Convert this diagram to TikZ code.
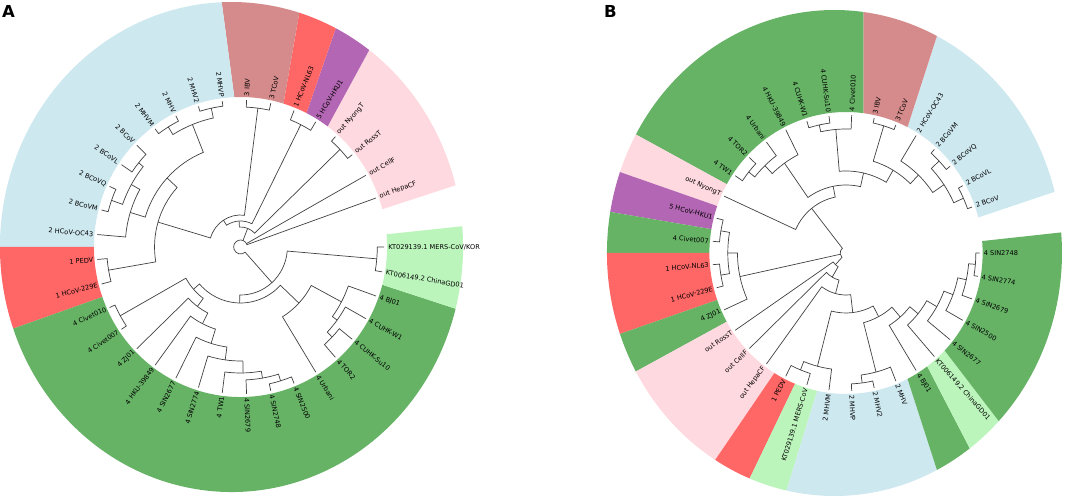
\documentclass[tikz,border=0pt]{standalone}
\usepackage{fontspec}
\setmainfont{DejaVu Sans}
\definecolor{lbluefill}{RGB}{206,232,240}
\definecolor{brownfill}{RGB}{213,139,139}
\definecolor{redfill}{RGB}{255,102,102}
\definecolor{purplefill}{RGB}{179,102,179}
\definecolor{pinkfill}{RGB}{255,217,224}
\definecolor{lgreenfill}{RGB}{188,245,188}
\definecolor{greenfill}{RGB}{102,179,102}

\begin{document}
\begin{tikzpicture}[x=1pt,y=1pt,
		branch/.style={line width=0.7pt, draw=black!75},
		leaflabel/.style={font=\fontsize{6.6}{8}\selectfont, inner sep=1pt}
	]
	\useasboundingbox (0,0) rectangle (1084,498);
	
	\node [anchor=north west, inner sep=0, font=\fontsize{16.5}{18}\selectfont\bfseries] (panA) at (2,493) {A};
	\node [anchor=north west, inner sep=0, font=\fontsize{16.5}{18}\selectfont\bfseries] (panB) at (604,493) {B};
	
	% tree A
	\begin{scope}[shift={(240.5,251)}, xscale=0.977]
		% coloured ranges (outer rim sits a little to the left)
		\fill [pinkfill] (14.59:150) arc[start angle=14.59, end angle=53.51, radius=150] -- ([xshift=-9.2]53.51:237 and 245) arc[start angle=53.51, end angle=14.59, x radius=237, y radius=245] -- cycle;
		\fill [purplefill] (53.51:150) arc[start angle=53.51, end angle=63.24, radius=150] -- ([xshift=-9.2]63.24:237 and 245) arc[start angle=63.24, end angle=53.51, x radius=237, y radius=245] -- cycle;
		\fill [redfill] (63.24:150) arc[start angle=63.24, end angle=72.97, radius=150] -- ([xshift=-9.2]72.97:237 and 245) arc[start angle=72.97, end angle=63.24, x radius=237, y radius=245] -- cycle;
		\fill [brownfill] (72.97:150) arc[start angle=72.97, end angle=92.43, radius=150] -- ([xshift=-9.2]92.43:237 and 245) arc[start angle=92.43, end angle=72.97, x radius=237, y radius=245] -- cycle;
		\fill [lbluefill] (92.43:150) arc[start angle=92.43, end angle=180, radius=150] -- ([xshift=-9.2]180:237 and 245) arc[start angle=180, end angle=92.43, x radius=237, y radius=245] -- cycle;
		\fill [redfill] (180:150) arc[start angle=180, end angle=199.46, radius=150] -- ([xshift=-9.2]199.46:237 and 245) arc[start angle=199.46, end angle=180, x radius=237, y radius=245] -- cycle;
		\fill [greenfill] (199.46:150) arc[start angle=199.46, end angle=345.41, radius=150] -- ([xshift=-9.2]345.41:237 and 245) arc[start angle=345.41, end angle=199.46, x radius=237, y radius=245] -- cycle;
		\fill [lgreenfill] (345.41:150) arc[start angle=345.41, end angle=364.86, radius=150] -- ([xshift=-9.2]364.86:237 and 245) arc[start angle=364.86, end angle=345.41, x radius=237, y radius=245] -- cycle;
		
		% branches
		\draw [branch] (97.30:147) -- (97.30:142) arc[start angle=97.30, end angle=107.03, radius=142] -- (107.03:147);
		\draw [branch] (116.76:147) -- (116.76:141) arc[start angle=116.76, end angle=126.49, radius=141] -- (126.49:147);
		\draw [branch] (102.16:142) -- (102.16:132) arc[start angle=102.16, end angle=121.62, radius=132] -- (121.62:141);
		\draw [branch] (136.22:147) -- (136.22:134) arc[start angle=136.22, end angle=145.95, radius=134] -- (145.95:147);
		\draw [branch] (155.68:147) -- (155.68:140) arc[start angle=155.68, end angle=165.41, radius=140] -- (165.41:147);
		\draw [branch] (141.08:134) -- (141.08:128) arc[start angle=141.08, end angle=160.54, radius=128] -- (160.54:140);
		\draw [branch] (150.81:128) -- (150.81:118) arc[start angle=150.81, end angle=175.14, radius=118] -- (175.14:147);
		\draw [branch] (111.89:132) -- (111.89:102) arc[start angle=111.89, end angle=162.97, radius=102] -- (162.97:118);
		\draw [branch] (184.86:147) -- (184.86:137) arc[start angle=184.86, end angle=194.59, radius=137] -- (194.59:147);
		\draw [branch] (137.43:102) -- (137.43:88) arc[start angle=137.43, end angle=189.73, radius=88] -- (189.73:137);
		\draw [branch] (77.84:147) -- (77.84:140) arc[start angle=77.84, end angle=87.57, radius=140] -- (87.57:147);
		\draw [branch] (82.70:140) -- (82.70:32) arc[start angle=82.70, end angle=163.58, radius=32] -- (163.58:88);
		\draw [branch] (58.38:147) -- (58.38:137) arc[start angle=58.38, end angle=68.11, radius=137] -- (68.11:147);
		\draw [branch] (63.24:137) -- (63.24:26) arc[start angle=63.24, end angle=123.14, radius=26] -- (123.14:32);
		\draw [branch] (38.92:147) -- (38.92:141) arc[start angle=38.92, end angle=48.65, radius=141] -- (48.65:147);
		\draw [branch] (43.78:141) -- (43.78:20) arc[start angle=43.78, end angle=93.19, radius=20] -- (93.19:26);
		\draw [branch] (204.32:147) -- (204.32:141) arc[start angle=204.32, end angle=214.05, radius=141] -- (214.05:147);
		\draw [branch] (282.16:147) -- (282.16:140) arc[start angle=282.16, end angle=291.89, radius=140] -- (291.89:147);
		\draw [branch] (272.43:147) -- (272.43:133) arc[start angle=272.43, end angle=287.03, radius=133] -- (287.03:140);
		\draw [branch] (262.70:147) -- (262.70:126) arc[start angle=262.70, end angle=279.73, radius=126] -- (279.73:133);
		\draw [branch] (252.97:147) -- (252.97:114) arc[start angle=252.97, end angle=271.22, radius=114] -- (271.22:126);
		\draw [branch] (243.24:147) -- (243.24:101) arc[start angle=243.24, end angle=262.09, radius=101] -- (262.09:114);
		\draw [branch] (233.51:147) -- (233.51:86) arc[start angle=233.51, end angle=252.67, radius=86] -- (252.67:101);
		\draw [branch] (223.78:147) -- (223.78:74) arc[start angle=223.78, end angle=243.09, radius=74] -- (243.09:86);
		\draw [branch] (209.19:141) -- (209.19:64) arc[start angle=209.19, end angle=233.43, radius=64] -- (233.43:74);
		\draw [branch] (311.35:147) -- (311.35:130) arc[start angle=311.35, end angle=321.08, radius=130] -- (321.08:147);
		\draw [branch] (316.22:130) -- (316.22:123) arc[start angle=316.22, end angle=330.81, radius=123] -- (330.81:147);
		\draw [branch] (323.51:123) -- (323.51:117) arc[start angle=323.51, end angle=340.54, radius=117] -- (340.54:147);
		\draw [branch] (301.62:147) -- (301.62:82) arc[start angle=301.62, end angle=332.03, radius=82] -- (332.03:117);
		\draw [branch] (221.31:64) -- (221.31:56) arc[start angle=221.31, end angle=316.82, radius=56] -- (316.82:82);
		\draw [branch] (350.27:147) -- (350.27:140) arc[start angle=350.27, end angle=360, radius=140] -- (360:147);
		\draw [branch] (269.07:56) -- (269.07:48) arc[start angle=269.07, end angle=355.14, radius=48] -- (355.14:140);
		\draw [branch] (19.46:147) -- (19.46:7) arc[start angle=19.46, end angle=312.10, radius=7] -- (312.10:48);
		\draw [branch] (29.19:7) -- (29.19:147);
		\draw [branch] (68.49:7) -- (68.49:20);
		
		% leaf names
		\node [leaflabel, anchor=west, rotate=19.46] (a2) at (19.46:150) {out HepaCF};
		\node [leaflabel, anchor=west, rotate=29.19] (a3) at (29.19:150) {out CellF};
		\node [leaflabel, anchor=west, rotate=38.92] (a4) at (38.92:150) {out RossT};
		\node [leaflabel, anchor=west, rotate=48.65] (a5) at (48.65:150) {out NyongT};
		\node [leaflabel, anchor=west, rotate=58.38] (a6) at (58.38:150) {5 HCoV-HKU1};
		\node [leaflabel, anchor=west, rotate=68.11] (a7) at (68.11:150) {1 HCoV-NL63};
		\node [leaflabel, anchor=west, rotate=77.84] (a8) at (77.84:150) {3 TCoV};
		\node [leaflabel, anchor=west, rotate=87.57] (a9) at (87.57:150) {3 IBV};
		\node [leaflabel, anchor=east, rotate=-82.70] (a10) at (97.30:150) {2 MHVP};
		\node [leaflabel, anchor=east, rotate=-72.97] (a11) at (107.03:150) {2 MHV2};
		\node [leaflabel, anchor=east, rotate=-63.24] (a12) at (116.76:150) {2 MHV};
		\node [leaflabel, anchor=east, rotate=-53.51] (a13) at (126.49:150) {2 MHVM};
		\node [leaflabel, anchor=east, rotate=-43.78] (a14) at (136.22:150) {2 BCoV};
		\node [leaflabel, anchor=east, rotate=-34.05] (a15) at (145.95:150) {2 BCoVL};
		\node [leaflabel, anchor=east, rotate=-24.32] (a16) at (155.68:150) {2 BCoVQ};
		\node [leaflabel, anchor=east, rotate=-14.59] (a17) at (165.41:150) {2 BCoVM};
		\node [leaflabel, anchor=east, rotate=-4.86] (a18) at (175.14:150) {2 HCoV-OC43};
		\node [leaflabel, anchor=east, rotate=4.86] (a19) at (184.86:150) {1 PEDV};
		\node [leaflabel, anchor=east, rotate=14.59] (a20) at (194.59:150) {1 HCoV-229E};
		\node [leaflabel, anchor=east, rotate=24.32] (a21) at (204.32:150) {4 Civet010};
		\node [leaflabel, anchor=east, rotate=34.05] (a22) at (214.05:150) {4 Civet007};
		\node [leaflabel, anchor=east, rotate=43.78] (a23) at (223.78:150) {4 ZJ01};
		\node [leaflabel, anchor=east, rotate=53.51] (a24) at (233.51:150) {4 HKU-39849};
		\node [leaflabel, anchor=east, rotate=63.24] (a25) at (243.24:150) {4 SIN2677};
		\node [leaflabel, anchor=east, rotate=72.97] (a26) at (252.97:150) {4 SIN2774};
		\node [leaflabel, anchor=east, rotate=82.70] (a27) at (262.70:150) {4 TW1};
		\node [leaflabel, anchor=west, rotate=272.43] (a28) at (272.43:150) {4 SIN2679};
		\node [leaflabel, anchor=west, rotate=282.16] (a29) at (282.16:150) {4 SIN2748};
		\node [leaflabel, anchor=west, rotate=291.89] (a30) at (291.89:150) {4 SIN2500};
		\node [leaflabel, anchor=west, rotate=301.62] (a31) at (301.62:150) {4 Urbani};
		\node [leaflabel, anchor=west, rotate=311.35] (a32) at (311.35:150) {4 TOR2};
		\node [leaflabel, anchor=west, rotate=321.08] (a33) at (321.08:150) {4 CUHK-Su10};
		\node [leaflabel, anchor=west, rotate=330.81] (a34) at (330.81:150) {4 CUHK-W1};
		\node [leaflabel, anchor=west, rotate=340.54] (a35) at (340.54:150) {4 BJ01};
		\node [leaflabel, anchor=west, rotate=350.27] (a36) at (350.27:150) {KT006149.2 ChinaGD01};
		\node [leaflabel, anchor=west, rotate=0] (a37) at (0:150) {KT029139.1 MERS-CoV/KOR};
	\end{scope}
	
	% tree B
	\begin{scope}[shift={(846,245)}, xscale=0.969]
		% coloured ranges (outer rim sits a little to the left)
		\fill [lbluefill] (14.59:141) arc[start angle=14.59, end angle=63.24, radius=141] -- ([xshift=-11.9]63.24:234.8 and 243) arc[start angle=63.24, end angle=14.59, x radius=234.8, y radius=243] -- cycle;
		\fill [brownfill] (63.24:141) arc[start angle=63.24, end angle=82.70, radius=141] -- ([xshift=-11.9]82.70:234.8 and 243) arc[start angle=82.70, end angle=63.24, x radius=234.8, y radius=243] -- cycle;
		\fill [greenfill] (82.70:141) arc[start angle=82.70, end angle=150.81, radius=141] -- ([xshift=-11.9]150.81:234.8 and 243) arc[start angle=150.81, end angle=82.70, x radius=234.8, y radius=243] -- cycle;
		\fill [pinkfill] (150.81:141) arc[start angle=150.81, end angle=160.54, radius=141] -- ([xshift=-11.9]160.54:234.8 and 243) arc[start angle=160.54, end angle=150.81, x radius=234.8, y radius=243] -- cycle;
		\fill [purplefill] (160.54:141) arc[start angle=160.54, end angle=170.27, radius=141] -- ([xshift=-11.9]170.27:234.8 and 243) arc[start angle=170.27, end angle=160.54, x radius=234.8, y radius=243] -- cycle;
		\fill [greenfill] (170.27:141) arc[start angle=170.27, end angle=180, radius=141] -- ([xshift=-11.9]180:234.8 and 243) arc[start angle=180, end angle=170.27, x radius=234.8, y radius=243] -- cycle;
		\fill [redfill] (180:141) arc[start angle=180, end angle=199.46, radius=141] -- ([xshift=-11.9]199.46:234.8 and 243) arc[start angle=199.46, end angle=180, x radius=234.8, y radius=243] -- cycle;
		\fill [greenfill] (199.46:141) arc[start angle=199.46, end angle=209.19, radius=141] -- ([xshift=-11.9]209.19:234.8 and 243) arc[start angle=209.19, end angle=199.46, x radius=234.8, y radius=243] -- cycle;
		\fill [pinkfill] (209.19:141) arc[start angle=209.19, end angle=238.38, radius=141] -- ([xshift=-11.9]238.38:234.8 and 243) arc[start angle=238.38, end angle=209.19, x radius=234.8, y radius=243] -- cycle;
		\fill [redfill] (238.38:141) arc[start angle=238.38, end angle=248.11, radius=141] -- ([xshift=-11.9]248.11:234.8 and 243) arc[start angle=248.11, end angle=238.38, x radius=234.8, y radius=243] -- cycle;
		\fill [lgreenfill] (248.11:141) arc[start angle=248.11, end angle=257.84, radius=141] -- ([xshift=-11.9]257.84:234.8 and 243) arc[start angle=257.84, end angle=248.11, x radius=234.8, y radius=243] -- cycle;
		\fill [lbluefill] (257.84:141) arc[start angle=257.84, end angle=296.76, radius=141] -- ([xshift=-11.9]296.76:234.8 and 243) arc[start angle=296.76, end angle=257.84, x radius=234.8, y radius=243] -- cycle;
		\fill [greenfill] (296.76:141) arc[start angle=296.76, end angle=306.49, radius=141] -- ([xshift=-11.9]306.49:234.8 and 243) arc[start angle=306.49, end angle=296.76, x radius=234.8, y radius=243] -- cycle;
		\fill [lgreenfill] (306.49:141) arc[start angle=306.49, end angle=316.22, radius=141] -- ([xshift=-11.9]316.22:234.8 and 243) arc[start angle=316.22, end angle=306.49, x radius=234.8, y radius=243] -- cycle;
		\fill [greenfill] (316.22:141) arc[start angle=316.22, end angle=364.86, radius=141] -- ([xshift=-11.9]364.86:234.8 and 243) arc[start angle=364.86, end angle=316.22, x radius=234.8, y radius=243] -- cycle;
		
		% branches
		\draw [branch] (19.46:138) -- (19.46:133) arc[start angle=19.46, end angle=29.19, radius=133] -- (29.19:138);
		\draw [branch] (38.92:138) -- (38.92:133) arc[start angle=38.92, end angle=48.65, radius=133] -- (48.65:138);
		\draw [branch] (24.32:133) -- (24.32:122) arc[start angle=24.32, end angle=43.78, radius=122] -- (43.78:133);
		\draw [branch] (34.05:122) -- (34.05:108) arc[start angle=34.05, end angle=58.38, radius=108] -- (58.38:138);
		\draw [branch] (68.11:138) -- (68.11:133) arc[start angle=68.11, end angle=77.84, radius=133] -- (77.84:138);
		\draw [branch] (46.22:108) -- (46.22:96) arc[start angle=46.22, end angle=72.97, radius=96] -- (72.97:133);
		\draw [branch] (97.30:138) -- (97.30:131) arc[start angle=97.30, end angle=107.03, radius=131] -- (107.03:138);
		\draw [branch] (87.57:138) -- (87.57:124) arc[start angle=87.57, end angle=102.16, radius=124] -- (102.16:131);
		\draw [branch] (59.59:96) -- (59.59:82) arc[start angle=59.59, end angle=94.86, radius=82] -- (94.86:124);
		\draw [branch] (136.22:138) -- (136.22:129) arc[start angle=136.22, end angle=145.95, radius=129] -- (145.95:138);
		\draw [branch] (126.49:138) -- (126.49:121) arc[start angle=126.49, end angle=141.08, radius=121] -- (141.08:129);
		\draw [branch] (116.76:138) -- (116.76:110) arc[start angle=116.76, end angle=133.78, radius=110] -- (133.78:121);
		\draw [branch] (77.25:82) -- (77.25:68) arc[start angle=77.25, end angle=125.27, radius=68] -- (125.27:110);
		\draw [branch] (101.26:68) -- (101.26:57) arc[start angle=101.26, end angle=155.68, radius=57] -- (155.68:138);
		\draw [branch] (165.41:138) -- (165.41:131) arc[start angle=165.41, end angle=175.14, radius=131] -- (175.14:138);
		\draw [branch] (184.86:138) -- (184.86:131) arc[start angle=184.86, end angle=194.59, radius=131] -- (194.59:138);
		\draw [branch] (170.27:131) -- (170.27:122) arc[start angle=170.27, end angle=189.73, radius=122] -- (189.73:131);
		\draw [branch] (180:122) -- (180:112) arc[start angle=180, end angle=204.32, radius=112] -- (204.32:138);
		\draw [branch] (350.27:138) -- (350.27:134) arc[start angle=350.27, end angle=360, radius=134] -- (360:138);
		\draw [branch] (340.54:138) -- (340.54:127) arc[start angle=340.54, end angle=355.14, radius=127] -- (355.14:134);
		\draw [branch] (330.81:138) -- (330.81:118) arc[start angle=330.81, end angle=347.84, radius=118] -- (347.84:127);
		\draw [branch] (321.08:138) -- (321.08:108) arc[start angle=321.08, end angle=339.32, radius=108] -- (339.32:118);
		\draw [branch] (311.35:138) -- (311.35:96) arc[start angle=311.35, end angle=330.20, radius=96] -- (330.20:108);
		\draw [branch] (301.62:138) -- (301.62:85) arc[start angle=301.62, end angle=320.77, radius=85] -- (320.77:96);
		\draw [branch] (272.43:138) -- (272.43:131) arc[start angle=272.43, end angle=282.16, radius=131] -- (282.16:138);
		\draw [branch] (277.30:131) -- (277.30:123) arc[start angle=277.30, end angle=291.89, radius=123] -- (291.89:138);
		\draw [branch] (284.59:123) -- (284.59:72) arc[start angle=284.59, end angle=311.20, radius=72] -- (311.20:85);
		\draw [branch] (243.24:138) -- (243.24:126) arc[start angle=243.24, end angle=252.97, radius=126] -- (252.97:138);
		\draw [branch] (248.11:126) -- (248.11:117) arc[start angle=248.11, end angle=262.70, radius=117] -- (262.70:138);
		\draw [branch] (255.41:117) -- (255.41:60) arc[start angle=255.41, end angle=297.90, radius=60] -- (297.90:72);
		\draw [branch] (233.51:138) -- (233.51:42) arc[start angle=233.51, end angle=276.66, radius=42] -- (276.66:60);
		\draw [branch] (223.78:138) -- (223.78:28) arc[start angle=223.78, end angle=255.07, radius=28] -- (255.07:42);
		\draw [branch] (214.05:138) -- (214.05:16) arc[start angle=214.05, end angle=239.43, radius=16] -- (239.43:28);
		\draw [branch] (128.46:57) -- (128.46:6) arc[start angle=128.46, end angle=226.74, radius=6] -- (226.74:16);
		\draw [branch] (192.16:6) -- (192.16:112);
		
		% leaf names
		\node [leaflabel, anchor=west, rotate=19.46] (b2) at (19.46:141) {2 BCoV};
		\node [leaflabel, anchor=west, rotate=29.19] (b3) at (29.19:141) {2 BCoVL};
		\node [leaflabel, anchor=west, rotate=38.92] (b4) at (38.92:141) {2 BCoVQ};
		\node [leaflabel, anchor=west, rotate=48.65] (b5) at (48.65:141) {2 BCoVM};
		\node [leaflabel, anchor=west, rotate=58.38] (b6) at (58.38:141) {2 HCoV-OC43};
		\node [leaflabel, anchor=west, rotate=68.11] (b7) at (68.11:141) {3 TCoV};
		\node [leaflabel, anchor=west, rotate=77.84] (b8) at (77.84:141) {3 IBV};
		\node [leaflabel, anchor=west, rotate=87.57] (b9) at (87.57:141) {4 Civet010};
		\node [leaflabel, anchor=east, rotate=-82.70] (b10) at (97.30:141) {4 CUHK-Su10};
		\node [leaflabel, anchor=east, rotate=-72.97] (b11) at (107.03:141) {4 CUHK-W1};
		\node [leaflabel, anchor=east, rotate=-63.24] (b12) at (116.76:141) {4 HKU-39849};
		\node [leaflabel, anchor=east, rotate=-53.51] (b13) at (126.49:141) {4 Urbani};
		\node [leaflabel, anchor=east, rotate=-43.78] (b14) at (136.22:141) {4 TOR2};
		\node [leaflabel, anchor=east, rotate=-34.05] (b15) at (145.95:141) {4 TW1};
		\node [leaflabel, anchor=east, rotate=-24.32] (b16) at (155.68:141) {out NyongT};
		\node [leaflabel, anchor=east, rotate=-14.59] (b17) at (165.41:141) {5 HCoV-HKU1};
		\node [leaflabel, anchor=east, rotate=-4.86] (b18) at (175.14:141) {4 Civet007};
		\node [leaflabel, anchor=east, rotate=4.86] (b19) at (184.86:141) {1 HCoV-NL63};
		\node [leaflabel, anchor=east, rotate=14.59] (b20) at (194.59:141) {1 HCoV-229E};
		\node [leaflabel, anchor=east, rotate=24.32] (b21) at (204.32:141) {4 ZJ01};
		\node [leaflabel, anchor=east, rotate=34.05] (b22) at (214.05:141) {out RossT};
		\node [leaflabel, anchor=east, rotate=43.78] (b23) at (223.78:141) {out CellF};
		\node [leaflabel, anchor=east, rotate=53.51] (b24) at (233.51:141) {out HepaCF};
		\node [leaflabel, anchor=east, rotate=63.24] (b25) at (243.24:141) {1 PEDV};
		\node [leaflabel, anchor=east, rotate=72.97] (b26) at (252.97:141) {KT029139.1 MERS-CoV};
		\node [leaflabel, anchor=east, rotate=82.70] (b27) at (262.70:141) {2 MHVM};
		\node [leaflabel, anchor=west, rotate=272.43] (b28) at (272.43:141) {2 MHVP};
		\node [leaflabel, anchor=west, rotate=282.16] (b29) at (282.16:141) {2 MHV2};
		\node [leaflabel, anchor=west, rotate=291.89] (b30) at (291.89:141) {2 MHV};
		\node [leaflabel, anchor=west, rotate=301.62] (b31) at (301.62:141) {4 BJ01};
		\node [leaflabel, anchor=west, rotate=311.35] (b32) at (311.35:141) {KT006149.2 ChinaGD01};
		\node [leaflabel, anchor=west, rotate=321.08] (b33) at (321.08:141) {4 SIN2677};
		\node [leaflabel, anchor=west, rotate=330.81] (b34) at (330.81:141) {4 SIN2500};
		\node [leaflabel, anchor=west, rotate=340.54] (b35) at (340.54:141) {4 SIN2679};
		\node [leaflabel, anchor=west, rotate=350.27] (b36) at (350.27:141) {4 SIN2774};
		\node [leaflabel, anchor=west, rotate=0] (b37) at (0:141) {4 SIN2748};
	\end{scope}
\end{tikzpicture}
\end{document}
